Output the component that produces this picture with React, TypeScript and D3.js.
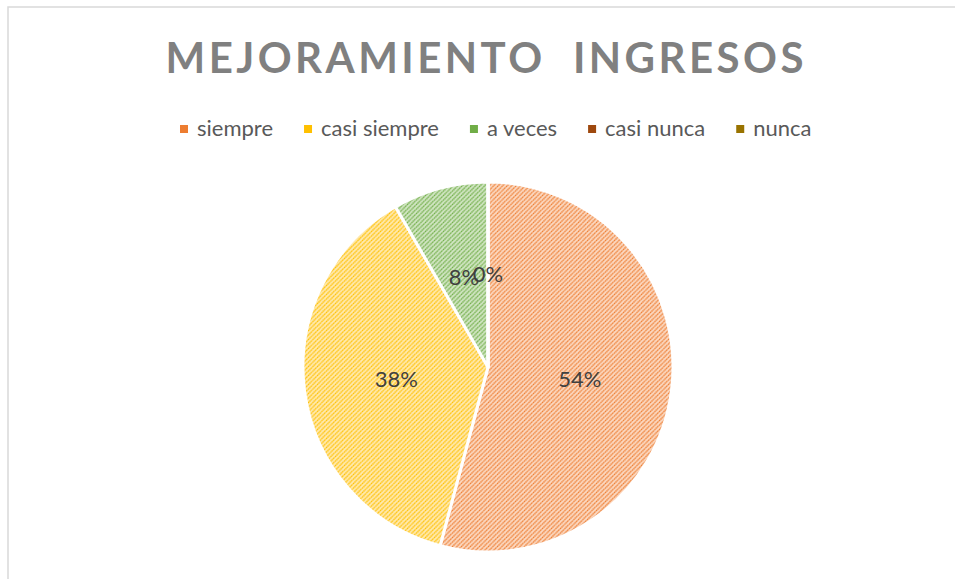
import React, { useEffect, useRef } from 'react';
import * as d3 from 'd3';

const categories = ['siempre', 'casi siempre', 'a veces', 'casi nunca', 'nunca'];
const counts = [13, 9, 2, 0, 0];
const labels = ['54%', '38%', '8%', '0%', '0%'];
const colors = ['#ED7D31', '#FFC000', '#70AD47', '#9E480E', '#997300'];
const tints = ['#fcd9c2', '#ffeab0', '#d2e6c4', '#e6c8b5', '#e6dbb5'];

const W = 955;
const H = 579;

const App = () => {
  const ref = useRef<SVGSVGElement>(null);

  useEffect(() => {
    const svg = d3.select(ref.current);
    svg.selectAll('*').remove();

    const defs = svg.append('defs');
    colors.forEach((c, i) => {
      const p = defs.append('pattern')
        .attr('id', `hatch${i}`)
        .attr('patternUnits', 'userSpaceOnUse')
        .attr('width', 4.5)
        .attr('height', 4.5);
      p.append('rect').attr('width', 4.5).attr('height', 4.5).attr('fill', tints[i]);
      p.append('path')
        .attr('d', 'M-1,1 l2,-2 M0,4.5 l4.5,-4.5 M3.5,5.5 l2,-2')
        .attr('stroke', c)
        .attr('stroke-width', 1.4)
        .attr('stroke-dasharray', '1.4,0.5');
    });

    // chart frame
    svg.append('rect')
      .attr('x', 8).attr('y', 7)
      .attr('width', W + 20).attr('height', H + 20)
      .attr('fill', 'white')
      .attr('stroke', '#d9d9d9')
      .attr('stroke-width', 1.5);

    svg.append('text')
      .attr('x', 487).attr('y', 73)
      .attr('text-anchor', 'middle')
      .attr('font-family', 'Lato, "Open Sans", sans-serif')
      .attr('font-weight', 'bold')
      .attr('font-size', 42)
      .attr('letter-spacing', 5)
      .attr('fill', '#808080')
      .attr('xml:space', 'preserve')
      .attr('textLength', 643)
      .text('MEJORAMIENTO  INGRESOS');

    // legend
    const legend = svg.append('g').attr('font-family', 'Lato, "Open Sans", sans-serif');
    let lx = 180;
    categories.forEach((name, i) => {
      const g = legend.append('g').attr('transform', `translate(${lx},0)`);
      g.append('rect')
        .attr('x', 0).attr('y', 125)
        .attr('width', 8).attr('height', 8)
        .attr('fill', colors[i]);
      const t = g.append('text')
        .attr('x', 17).attr('y', 136)
        .attr('font-size', 22)
        .attr('fill', '#595959')
        .text(name);
      const w = (t.node() as SVGTextElement).getComputedTextLength();
      lx += 17 + w + 31;
    });

    const cx = 488;
    const cy = 367;
    const r = 185;

    const pie = d3.pie<number>().sort(null).value((d) => d);
    const arcs = pie(counts);
    const arc = d3.arc<d3.PieArcDatum<number>>().innerRadius(0).outerRadius(r);

    const g = svg.append('g').attr('transform', `translate(${cx},${cy})`);
    g.selectAll('path.slice')
      .data(arcs)
      .enter()
      .append('path')
      .attr('class', 'slice')
      .attr('d', arc)
      .attr('fill', (d, i) => `url(#hatch${i})`)
      .attr('stroke', 'white')
      .attr('stroke-width', 3)
      .attr('stroke-linejoin', 'round');

    g.selectAll('text.lbl')
      .data(arcs)
      .enter()
      .filter((d, i) => i < 4)
      .append('text')
      .attr('class', 'lbl')
      .attr('transform', (d) => `translate(${arc.centroid(d)})`)
      .attr('dy', '0.35em')
      .attr('text-anchor', 'middle')
      .attr('font-family', 'Lato, "Open Sans", sans-serif')
      .attr('font-size', 22)
      .attr('fill', '#404040')
      .text((d, i) => labels[i]);
  }, []);

  return (
    <svg
      ref={ref}
      width={W}
      height={H}
      style={{ position: 'absolute', left: 0, top: 0, background: 'white' }}
    />
  );
};

export default App;
